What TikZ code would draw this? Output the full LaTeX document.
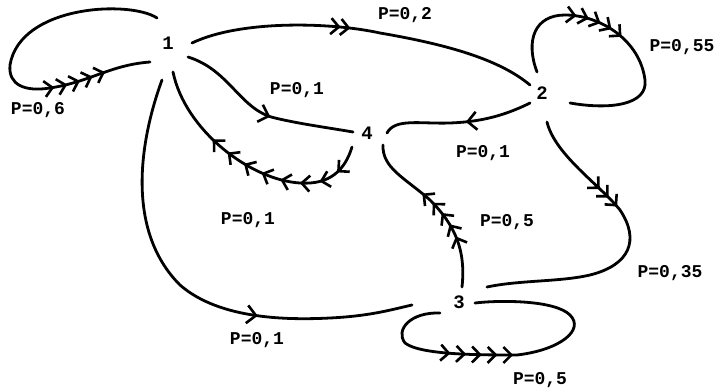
\documentclass[tikz,border=0pt]{standalone}
\usepackage{fontspec}
\setmainfont{Liberation Mono}
\usetikzlibrary{arrows.meta,decorations.markings}
\tikzset{
  edge/.style={line width=2.8pt, line cap=round},
  lbl/.style={font=\bfseries\fontsize{18}{22}\selectfont, inner sep=0pt},
  st/.style={font=\fontsize{19}{22}\selectfont\bfseries, inner sep=2pt},
  chev/.style n args={3}{postaction={decorate,decoration={markings,
      mark=between positions #1 and #2 step #3 with {\arrow[line width=2.6pt]{Straight Barb[length=8pt,width=16pt]}}}}},
  onechev/.style={postaction={decorate,decoration={markings,
      mark=at position #1 with {\arrow[line width=2.6pt]{Straight Barb[length=9pt,width=18pt]}}}}}
}
\begin{document}
\begin{tikzpicture}[x=1pt,y=-1pt]
\useasboundingbox (0,0) rectangle (717,390);
% states
\node[st] (n1) at (168,43) {1};
\node[st] (n2) at (542,93) {2};
\node[st] (n3) at (459,302) {3};
\node[st] (n4) at (367,133) {4};
% loop at 1
\draw[edge, chev={0.70}{0.88}{0.04}] ([shift={(-11,-25)}]n1.center) .. controls (130,0) and (20,5) .. (10,65)
  .. controls (8,85) and (25,92) .. (50,88) .. controls (90,82) and (110,65) .. ([shift={(-18,19)}]n1.center);
\node[lbl] (l16) at (38,110) {P=0,6};
% 1 -> 2
\draw[edge, chev={0.43}{0.46}{0.028}] ([shift={(24,0)}]n1.center) .. controls (240,20) and (330,22) .. (380,33)
  .. controls (450,45) and (500,60) .. ([shift={(-12,-8)}]n2.center);
\node[lbl] (l12) at (405,15) {P=0,2};
% 1 -> 4
\draw[edge, onechev=0.55] ([shift={(20,14)}]n1.center) .. controls (230,70) and (240,110) .. (275,118)
  .. controls (300,124) and (330,128) .. ([shift={(-14,-1)}]n4.center);
\node[lbl] (l14) at (297,90) {P=0,1};
% 4 -> 1
\draw[edge, chev={0.12}{0.70}{0.08}] ([shift={(-15,14)}]n4.center) .. controls (345,170) and (330,185) .. (300,183)
  .. controls (250,180) and (185,130) .. ([shift={(5,29)}]n1.center);
\node[lbl] (l41) at (248,220) {P=0,1};
% 1 -> 3
\draw[edge, onechev=0.66] ([shift={(-6,37)}]n1.center) .. controls (140,140) and (125,230) .. (180,285)
  .. controls (220,320) and (290,320) .. (330,318) .. controls (370,316) and (390,310) .. ([shift={(-47,3)}]n3.center);
\node[lbl] (l13) at (257,340) {P=0,1};
% loop at 2
\draw[edge, chev={0.32}{0.50}{0.045}] ([shift={(-5,-21)}]n2.center) .. controls (525,40) and (535,15) .. (565,15)
  .. controls (600,15) and (640,40) .. (645,80) .. controls (648,105) and (610,110) .. ([shift={(28,10)}]n2.center);
\node[lbl] (l22) at (682,47) {P=0,55};
% 2 -> 4
\draw[edge, onechev=0.45] ([shift={(-12,10)}]n2.center) .. controls (500,118) and (475,122) .. (450,123)
  .. controls (420,124) and (395,118) .. ([shift={(20,0)}]n4.center);
\node[lbl] (l24) at (483,153) {P=0,1};
% 2 -> 3
\draw[edge, chev={0.28}{0.36}{0.04}] ([shift={(5,29)}]n2.center) .. controls (555,155) and (600,185) .. (620,210)
  .. controls (640,240) and (630,265) .. (590,275) .. controls (560,282) and (520,280) .. ([shift={(28,-15)}]n3.center);
\node[lbl] (l23) at (670,273) {P=0,35};
% 3 -> 4
\draw[edge, chev={0.30}{0.66}{0.08}] ([shift={(3,-15)}]n3.center) .. controls (466,250) and (455,225) .. (430,200)
  .. controls (405,178) and (382,168) .. ([shift={(16,12)}]n4.center);
\node[lbl] (l34) at (507,222) {P=0,5};
% loop at 3
\draw[edge, chev={0.30}{0.48}{0.045}] ([shift={(-19,11)}]n3.center) .. controls (410,312) and (395,330) .. (405,343)
  .. controls (420,355) and (480,355) .. (517,355) .. controls (560,350) and (585,330) .. (570,315)
  .. controls (555,300) and (500,300) .. ([shift={(16,1)}]n3.center);
\node[lbl] (l33) at (540,380) {P=0,5};
\end{tikzpicture}
\end{document}
